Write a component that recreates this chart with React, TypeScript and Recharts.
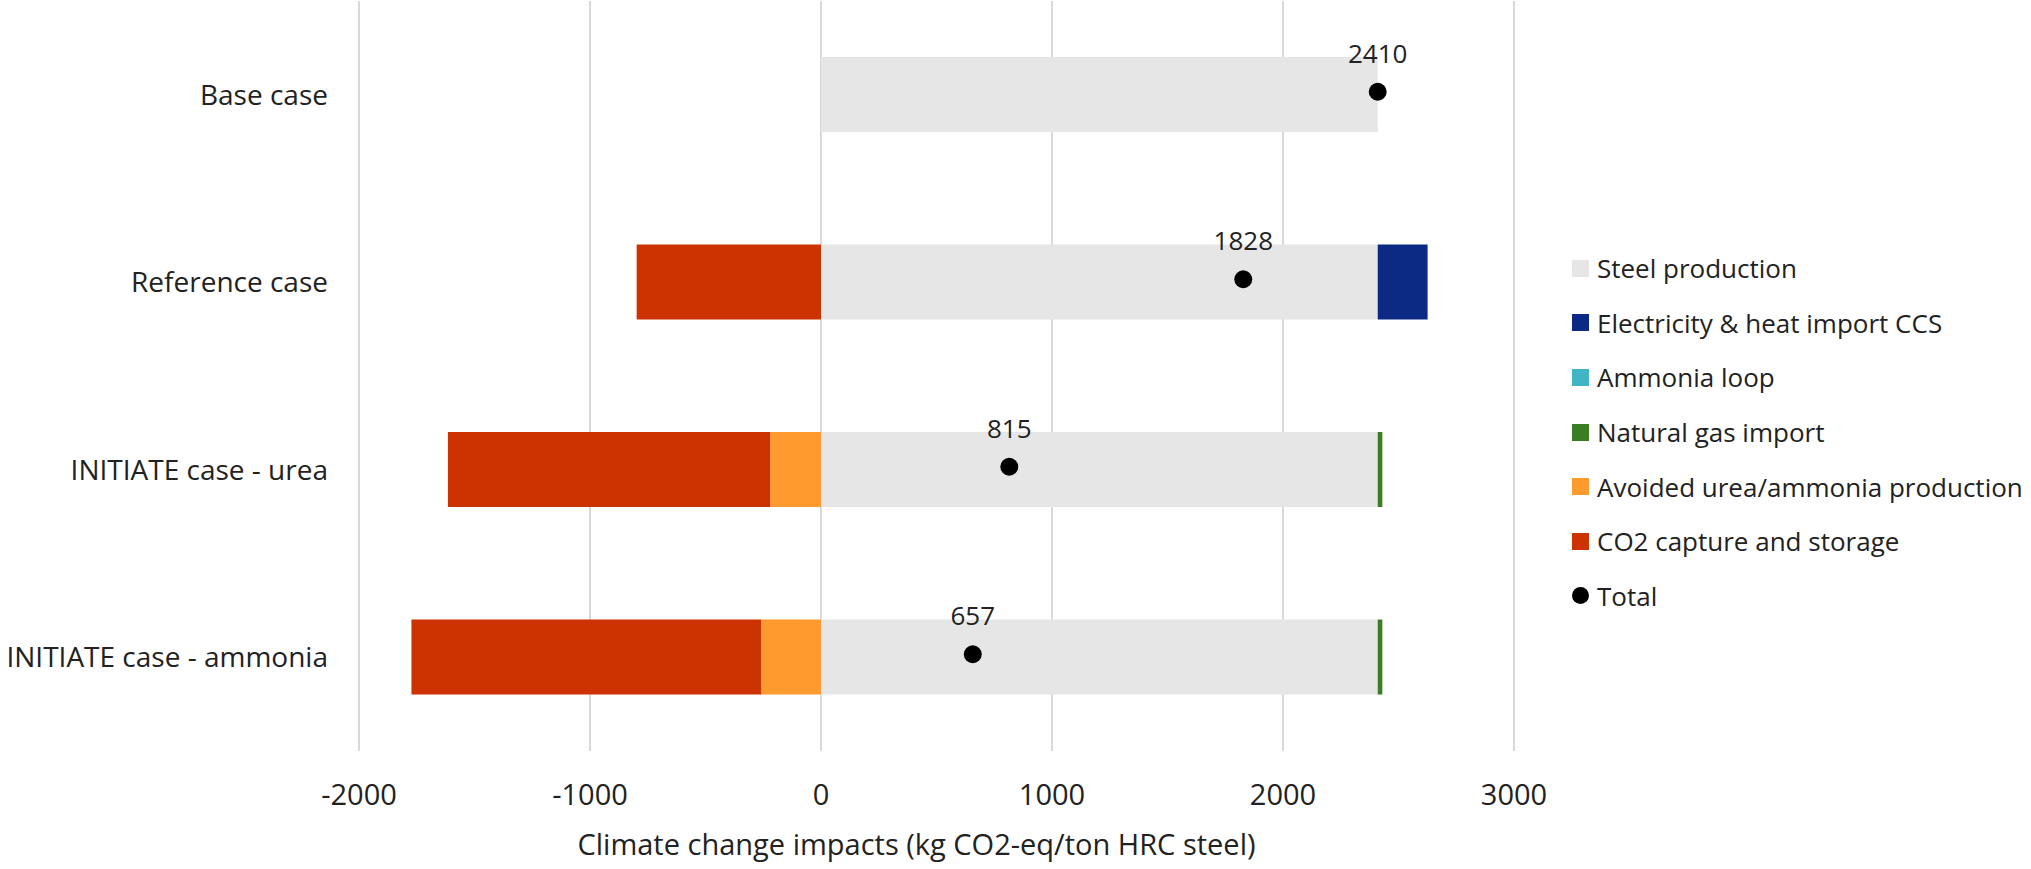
import {
  Bar,
  CartesianGrid,
  ComposedChart,
  LabelList,
  Line,
  XAxis,
  YAxis,
} from "recharts";

const FONT = "'Open Sans', 'DejaVu Sans', sans-serif";
const TEXT = "#222222";

const cases = [
  "Base case",
  "Reference case",
  "INITIATE case - urea",
  "INITIATE case - ammonia",
];

const steelProduction = [2410, 2410, 2410, 2410];
const electricityHeatCcs = [0, 216, 0, 0];
const ammoniaLoop = [0, 0, 0, 0];
const naturalGasImport = [0, 0, 20, 20];
const avoidedProduction = [0, 0, -220, -259];
const co2Capture = [0, -798, -1395, -1514];
const totals = [2410, 1828, 815, 657];

const xTicks = [-2000, -1000, 0, 1000, 2000, 3000];

const series = [
  { key: "steel", name: "Steel production", color: "#e6e6e6", values: steelProduction },
  { key: "elec", name: "Electricity & heat import CCS", color: "#0c2a84", values: electricityHeatCcs },
  { key: "loop", name: "Ammonia loop", color: "#3fb5c6", values: ammoniaLoop },
  { key: "gas", name: "Natural gas import", color: "#3b7d23", values: naturalGasImport },
  { key: "avoided", name: "Avoided urea/ammonia production", color: "#ff9a2e", values: avoidedProduction },
  { key: "ccs", name: "CO2 capture and storage", color: "#cc3300", values: co2Capture },
];

const data = cases.map((name, i) => {
  const row: any = { name, total: totals[i] };
  series.forEach((s) => {
    row[s.key] = s.values[i];
  });
  return row;
});

// the total markers sit a few px above the bar centre in the original
const TotalDot = (props: any) => {
  const { cx, cy, index } = props;
  if (cx == null || cy == null) return null;
  return <circle key={`dot-${index}`} cx={cx} cy={cy - 3} r={9} fill="#000" />;
};

const ChartLegend = () => (
  <div
    style={{
      position: "absolute",
      left: 1572,
      top: 241,
      fontFamily: FONT,
      fontSize: 26,
      color: TEXT,
    }}
  >
    {series.map((s) => (
      <div
        key={s.key}
        style={{ display: "flex", alignItems: "center", height: 54.6 }}
      >
        <span
          style={{
            width: 17,
            height: 17,
            background: s.color,
            marginRight: 8,
            display: "inline-block",
          }}
        />
        <span style={{ whiteSpace: "nowrap" }}>{s.name}</span>
      </div>
    ))}
    <div style={{ display: "flex", alignItems: "center", height: 54.6 }}>
      <span
        style={{
          width: 17,
          height: 17,
          borderRadius: "50%",
          background: "#000",
          marginRight: 8,
          display: "inline-block",
        }}
      />
      <span>Total</span>
    </div>
  </div>
);

export default function App() {
  return (
    <div
      style={{
        position: "absolute",
        left: 0,
        top: 0,
        width: 2031,
        height: 869,
        background: "#fff",
      }}
    >
      <ComposedChart
        width={2031}
        height={869}
        data={data}
        layout="vertical"
        stackOffset="sign"
        margin={{ top: 1, right: 517, bottom: 0, left: 0 }}
      >
        <CartesianGrid
          horizontal={false}
          stroke="#d9d9d9"
          strokeWidth={2}
        />
        <XAxis
          type="number"
          domain={[-2000, 3000]}
          ticks={xTicks}
          axisLine={false}
          tickLine={false}
          height={118}
          tickMargin={27}
          tick={{ fontSize: 29, fill: TEXT, fontFamily: FONT }}
          label={{
            value: "Climate change impacts (kg CO2-eq/ton HRC steel)",
            position: "insideBottom",
            offset: 14,
            dx: -20,
            fontSize: 29,
            fill: TEXT,
            fontFamily: FONT,
          }}
        />
        <YAxis
          type="category"
          dataKey="name"
          width={359}
          axisLine={false}
          tickLine={false}
          tickMargin={25}
          tick={{ fontSize: 28, fill: TEXT, fontFamily: FONT }}
        />
        {series.map((s) => (
          <Bar
            key={s.key}
            dataKey={s.key}
            name={s.name}
            stackId="a"
            fill={s.color}
            barSize={75}
            isAnimationActive={false}
          />
        ))}
        <Line
          dataKey="total"
          name="Total"
          stroke="none"
          dot={TotalDot}
          activeDot={false}
          isAnimationActive={false}
        >
          <LabelList
            dataKey="total"
            position="top"
            offset={32}
            fontSize={26}
            fill={TEXT}
            fontFamily={FONT}
          />
        </Line>
      </ComposedChart>
      <ChartLegend />
    </div>
  );
}
